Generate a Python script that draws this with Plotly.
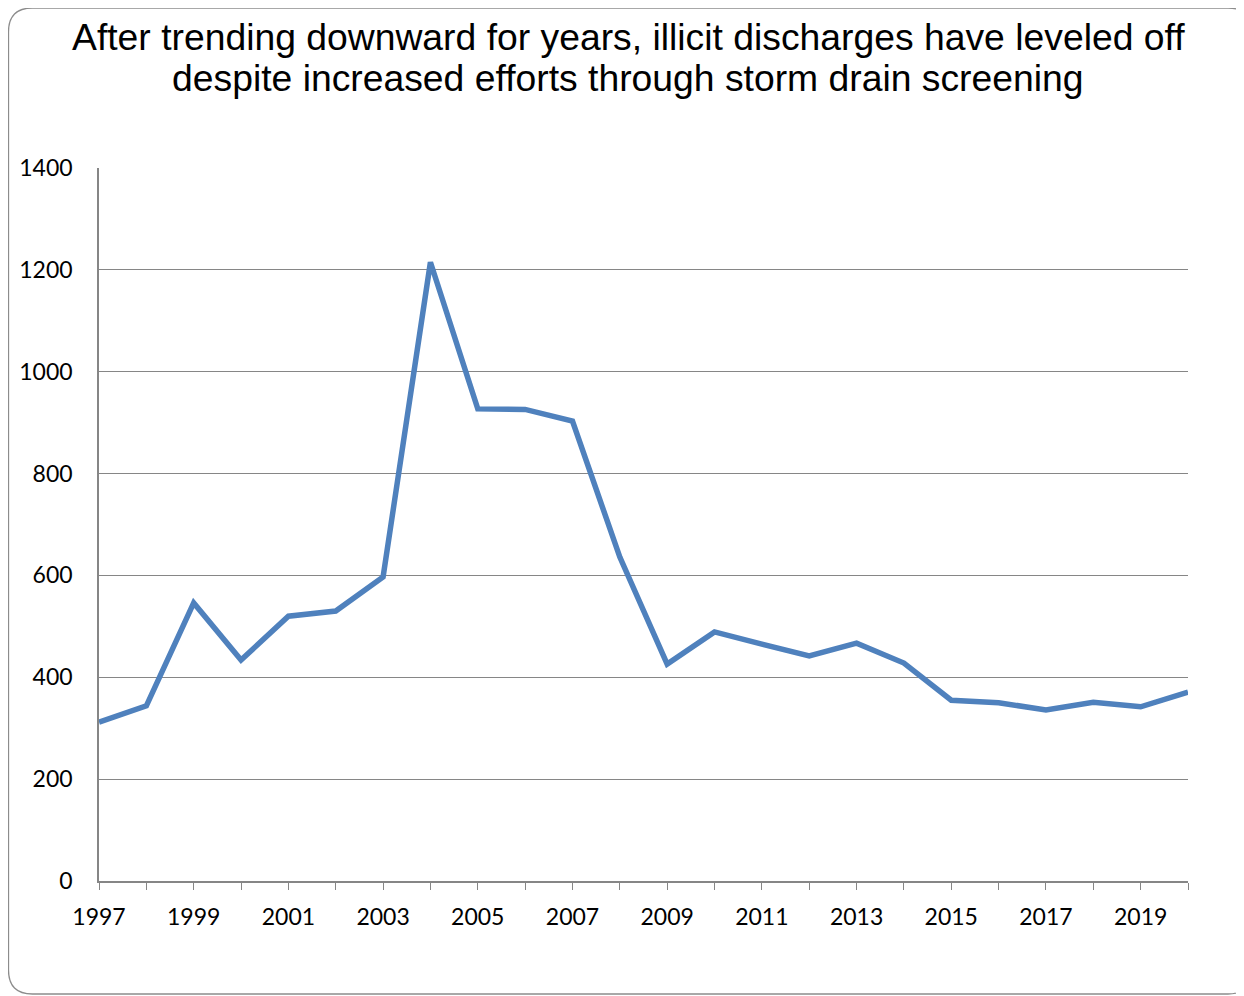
import plotly.graph_objects as go

years = list(range(1997, 2021))
discharges = [312, 344, 546, 434, 520, 530, 597, 1215, 927, 926, 903, 636,
              426, 489, 465, 442, 467, 428, 355, 350, 336, 351, 342, 371]
y_ticks = [0, 200, 400, 600, 800, 1000, 1200, 1400]
title_lines = ["After trending downward for years, illicit discharges have leveled off",
               "despite increased efforts through storm drain screening"]

OFF = 8  # page body margin
W, H = 1244 - OFF, 996 - OFF
L, T = 99 - OFF, 168 - OFF
R = W - (1188 - OFF)
B = H - (881 - OFF)
pw, ph = W - L - R, H - T - B

def px(x):
    return (x - OFF - L) / pw

def py(y):
    return (H - B - (y - OFF)) / ph

fig = go.Figure()
fig.add_trace(go.Scatter(x=years, y=discharges, mode="lines",
                         line=dict(color="#4F81BD", width=5.5), cliponaxis=False,
                         hoverinfo="x+y"))

# rounded border (right side extends beyond the visible page, as in the reference)
x0, x1, y0, y1, r = 8.5, 1252, 8, 994, 24
path = (f"M {px(x0+r)},{py(y0)} L {px(x1-r)},{py(y0)} "
        f"Q {px(x1)},{py(y0)} {px(x1)},{py(y0+r)} "
        f"L {px(x1)},{py(y1-r)} Q {px(x1)},{py(y1)} {px(x1-r)},{py(y1)} "
        f"L {px(x0+r)},{py(y1)} Q {px(x0)},{py(y1)} {px(x0)},{py(y1-r)} "
        f"L {px(x0)},{py(y0+r)} Q {px(x0)},{py(y0)} {px(x0+r)},{py(y0)} Z")

annots = []
for txt, yc in zip(title_lines, [37, 78]):
    annots.append(dict(text=txt, xref="paper", yref="paper", x=px(628), y=py(yc),
                       xanchor="center", yanchor="middle", showarrow=False,
                       font=dict(family="Liberation Sans, Arial", size=37.3, color="black")))

fig.update_layout(
    width=W, height=H,
    margin=dict(l=L, r=R, t=T, b=B, pad=0, autoexpand=False),
    paper_bgcolor="white", plot_bgcolor="white",
    showlegend=False,
    annotations=annots,
    xaxis=dict(range=[1997, 2020], tick0=1997, dtick=2, ticks="outside", ticklen=7,
               tickcolor="#868686", showgrid=False, showline=True, linecolor="#868686",
               linewidth=1.5, zeroline=False, automargin=False,
               tickfont=dict(family="Lato, Open Sans", size=23, color="black"),
               ticklabelstandoff=8,
               minor=dict(dtick=1, tick0=1997, ticks="outside", ticklen=7,
                          tickcolor="#868686", showgrid=False)),
    yaxis=dict(range=[0, 1400], tickvals=y_ticks, showgrid=True, gridcolor="#868686",
               gridwidth=1.2, showline=True, linecolor="#868686", linewidth=1.5,
               zeroline=False, ticks="", automargin=False,
               tickfont=dict(family="Lato, Open Sans", size=23, color="black"),
               ticklabelstandoff=20),
    shapes=[dict(type="path", xref="paper", yref="paper", path=path,
                 line=dict(color="#8c8c8c", width=1.3), layer="below")],
)

fig.write_html("out.html")
